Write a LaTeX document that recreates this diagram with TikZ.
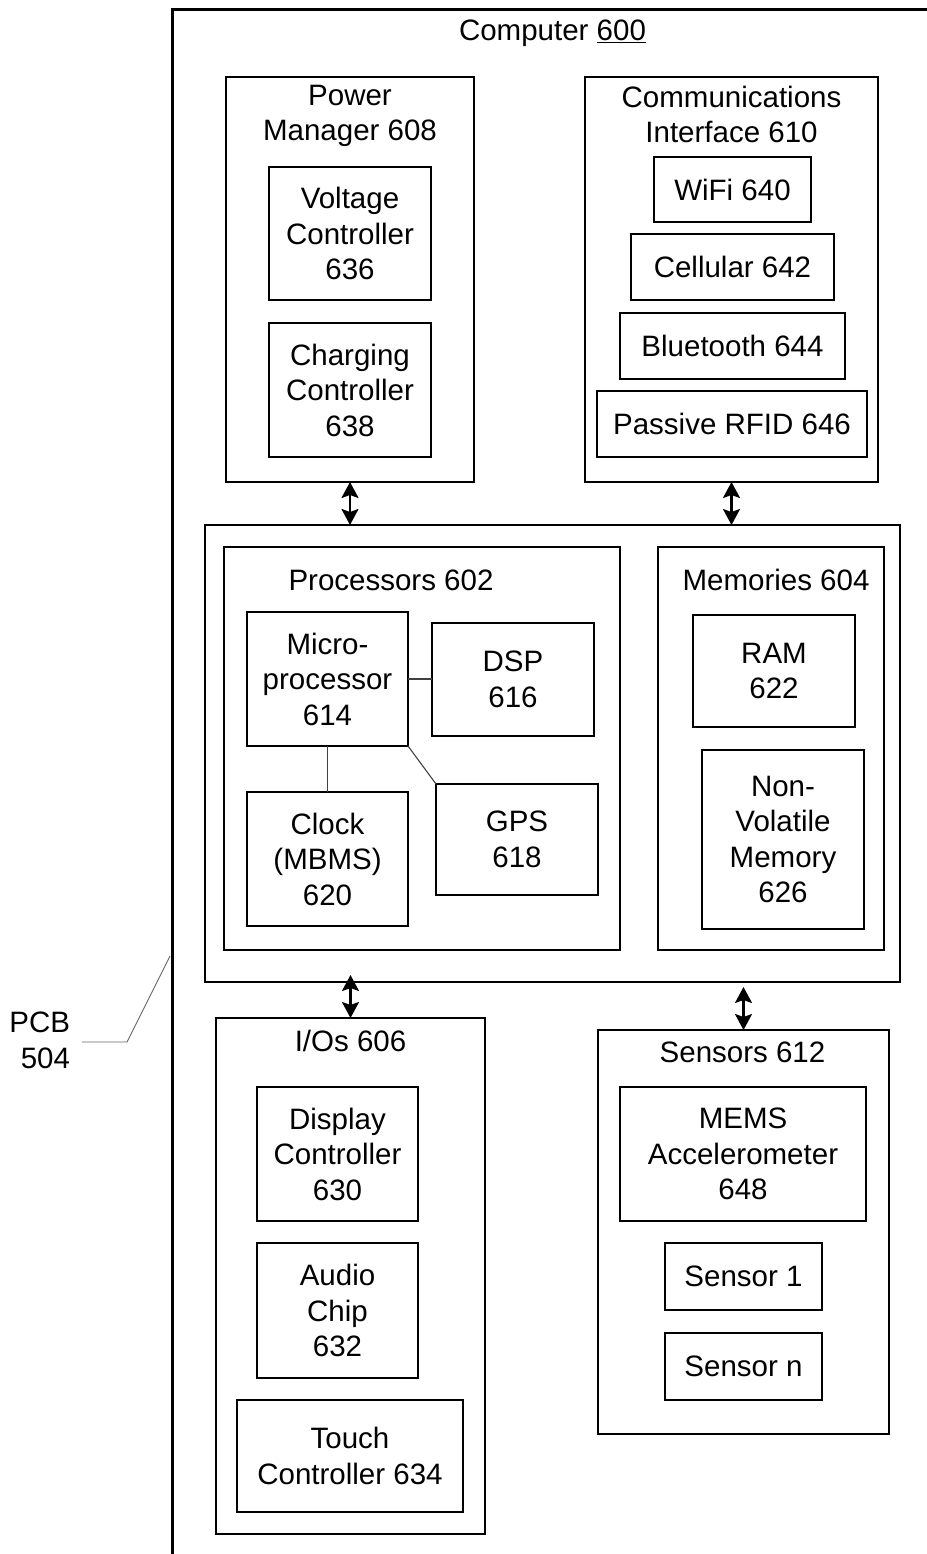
\documentclass[tikz,border=0pt]{standalone}
\usepackage{fontspec}
\setmainfont{Liberation Sans}
\usetikzlibrary{arrows.meta}
\begin{document}
\begin{tikzpicture}[x=1pt,y=-1pt,
  every node/.style={font=\fontsize{29.5}{35.5}\selectfont, align=center, inner sep=0pt, outer sep=0pt},
  box/.style={draw, line width=2.9pt},
  frame/.style={line width=3pt},
  biarrow/.style={line width=2.4pt, {Stealth[length=16pt,width=17pt,inset=3pt]}-{Stealth[length=16pt,width=17pt,inset=3pt]}},
  thinline/.style={line width=1.1pt, black!75},
  lead/.style={line width=0.9pt, black!60}]
\useasboundingbox (0,0) rectangle (926,1554);

% Computer 600 frame (continues past the page edge)
\draw[frame] (940,10) -| (172,1570);
\node[anchor=base] (tcomp) at (552.5,41) {Computer \underline{600}};

% Power manager
\node[box, minimum width=248pt, minimum height=405pt] (pm) at (350,279.5) {};
\node[anchor=north] (tpm) at (350,85) {Power\\Manager 608};
\node[box, minimum width=162pt, minimum height=133pt] (vc) at (350,233.5) {Voltage\\Controller\\636};
\node[box, minimum width=162pt, minimum height=134pt] (cc) at (350,390) {Charging\\Controller\\638};

% Communications interface
\node[box, minimum width=293pt, minimum height=405pt] (ci) at (731.5,279.5) {};
\node[anchor=north] (tci) at (731.5,86) {Communications\\Interface 610};
\node[box, minimum width=157pt, minimum height=65pt] (wifi) at (732.5,189.5) {WiFi 640};
\node[box, minimum width=203pt, minimum height=66pt] (cell) at (732.5,267) {Cellular 642};
\node[box, minimum width=225pt, minimum height=66pt] (bt) at (732.5,346) {Bluetooth 644};
\node[box, minimum width=270pt, minimum height=66pt] (rfid) at (732,424) {Passive RFID 646};

% Middle block
\node[box, minimum width=695pt, minimum height=457pt] (mid) at (552.5,753.5) {};
\node[box, minimum width=396pt, minimum height=403pt] (proc) at (422,748.5) {};
\node[anchor=base] (tproc) at (391,590) {Processors 602};
\node[box, minimum width=161pt, minimum height=134pt] (mp) at (327.5,679) {Micro-\\processor\\614};
\node[box, minimum width=162pt, minimum height=113pt] (dsp) at (513,679.5) {DSP\\616};
\node[box, minimum width=161pt, minimum height=134pt] (clk) at (327.5,859) {Clock\\(MBMS)\\620};
\node[box, minimum width=162pt, minimum height=111pt] (gps) at (517,839.5) {GPS\\618};

\node[box, minimum width=226pt, minimum height=403pt] (mem) at (771,748.5) {};
\node[anchor=base] (tmem) at (776,590) {Memories 604};
\node[box, minimum width=162pt, minimum height=112pt] (ram) at (774,671) {RAM\\622};
\node[box, minimum width=162pt, minimum height=179pt] (nvm) at (783,839.5) {Non-\\Volatile\\Memory\\626};

% I/Os
\node[box, minimum width=269pt, minimum height=516pt] (io) at (350.5,1276) {};
\node[anchor=base] (tio) at (350.5,1051.5) {I/Os 606};
\node[box, minimum width=161pt, minimum height=134pt] (disp) at (337.5,1154) {Display\\Controller\\630};
\node[box, minimum width=161pt, minimum height=135pt] (audio) at (337.5,1310.5) {Audio\\Chip\\632};
\node[box, minimum width=226pt, minimum height=112pt] (touch) at (350,1456) {Touch\\Controller 634};

% Sensors
\node[box, minimum width=291pt, minimum height=404pt] (sens) at (743.5,1232) {};
\node[anchor=base] (tsens) at (742.5,1062.5) {Sensors 612};
\node[box, minimum width=246pt, minimum height=134pt] (mems) at (743,1154) {MEMS\\Accelerometer\\648};
\node[box, minimum width=157pt, minimum height=67pt] (s1) at (743.5,1276.5) {Sensor 1};
\node[box, minimum width=157pt, minimum height=67pt] (sn) at (743.5,1366.5) {Sensor n};

% Bus arrows
\draw[biarrow] (pm.south) -- (pm.south |- mid.north);
\draw[biarrow] (ci.south) -- (ci.south |- mid.north);
\draw[biarrow, shorten <=-7pt] (io.north |- mid.south) -- (io.north);
\draw[biarrow, shorten <=5pt] (sens.north |- mid.south) -- (sens.north);

% Processor internal links
\draw[thinline] (mp.east) -- (mp.east -| dsp.west);
\draw[thinline] (mp.south) -- (clk.north);
\draw[thinline] (mp.south east) -- (gps.north west);

% PCB leader
\coordinate (pcbtip) at (170,956);
\coordinate (pcbknee) at (127,1042);
\node[anchor=east, align=right] (pcb) at (70,1040.5) {PCB\\504};
\draw[lead] (pcbtip) -- (pcbknee) -- ([xshift=12pt]pcb.east |- pcbknee);
\end{tikzpicture}
\end{document}
